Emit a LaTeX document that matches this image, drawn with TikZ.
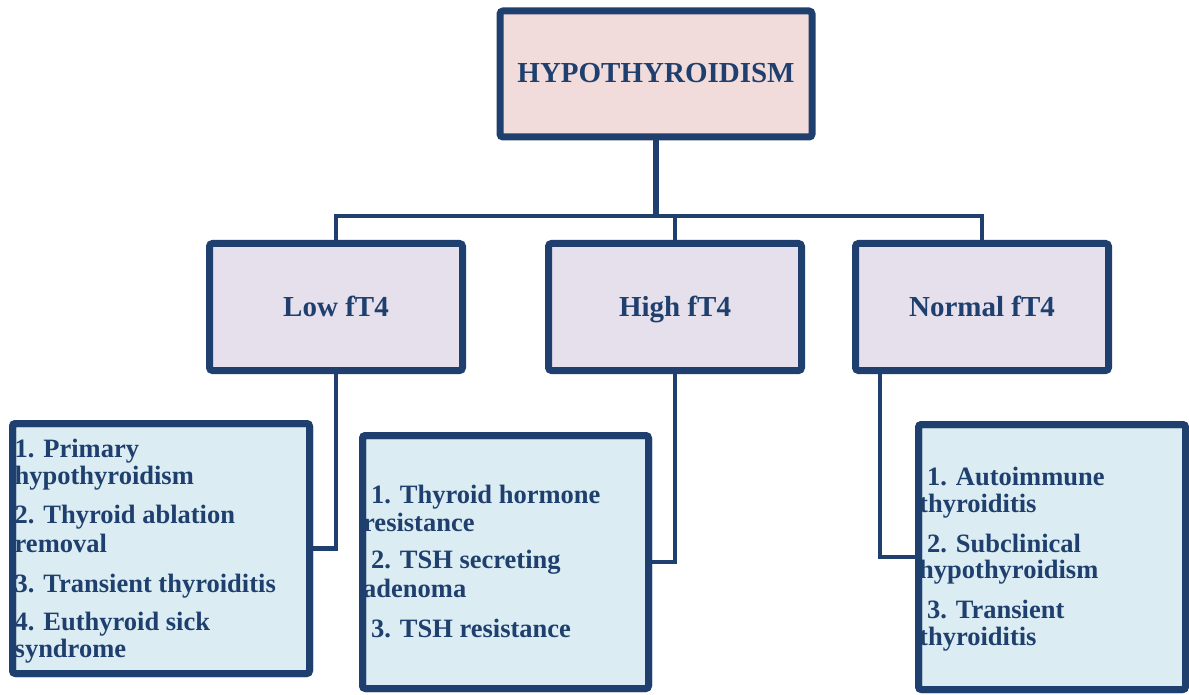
\documentclass[tikz,border=0pt]{standalone}
\usepackage{fontspec}
\setmainfont{Liberation Serif}
\usetikzlibrary{shadows,backgrounds}
\definecolor{navy}{RGB}{31,64,110}
\definecolor{rootfill}{RGB}{242,220,219}
\definecolor{midfill}{RGB}{229,224,236}
\definecolor{leaffill}{RGB}{219,237,243}
\begin{document}
\begin{tikzpicture}[x=1pt,y=-1pt,
  box/.style={draw=navy, line width=7pt, rounded corners=3pt, inner sep=0pt, outer sep=0pt,
    text=navy, font=\bfseries\fontsize{29}{31}\selectfont, text height=22pt, text depth=4pt,
    drop shadow={shadow xshift=2pt, shadow yshift=-3pt, opacity=0.35, fill=black!70}},
  rim/.style={draw=navy, line width=7pt, rounded corners=3pt},
  conn/.style={draw=navy, line width=4.5pt},
  item/.style={anchor=base west, inner sep=0pt, text=navy,
    font=\bfseries\fontsize{26.5}{28}\selectfont}]
\useasboundingbox (0,0) rectangle (1189,695);

% boxes of the tree
\node[box, fill=rootfill, minimum width=312pt, minimum height=126pt] (root) at (656,74) {HYPOTHYROIDISM};
\node[box, fill=midfill, minimum width=253pt, minimum height=127pt] (low) at (336,307) {Low fT4};
\node[box, fill=midfill, minimum width=253pt, minimum height=127pt] (high) at (675,307) {High fT4};
\node[box, fill=midfill, minimum width=253pt, minimum height=127pt] (normal) at (982,307) {Normal fT4};
\node[box, fill=leaffill, minimum width=297pt, minimum height=250pt] (leafL) at (161,548.5) {};
\node[box, fill=leaffill, minimum width=286pt, minimum height=253pt] (leafH) at (505.5,562) {};
\node[box, fill=leaffill, minimum width=267pt, minimum height=265pt] (leafN) at (1052,557) {};

% connectors
\coordinate (bus) at (0,216);
\coordinate (ndrop) at (880,0);
\begin{pgfonlayer}{background}
  \draw[conn, line width=5.5pt] (root.south) -- (root.south |- bus);
  \draw[conn] (low.north) -- (low.north |- bus) -- (normal.north |- bus) -- (normal.north);
  \draw[conn] (high.north) -- (high.north |- bus);
  \draw[conn] (low.south) |- (leafL.east);
  \draw[conn] (high.south) |- (leafH.east);
  \draw[conn] (normal.south -| ndrop) |- (leafN.west);
\end{pgfonlayer}

% low fT4 causes
\node[item] (l1) at (14.5,457) {1. Primary};
\node[item] (l2) at (14.5,484) {hypothyroidism};
\node[item] (l3) at (14.5,523) {2. Thyroid ablation};
\node[item] (l4) at (14.5,552) {removal};
\node[item] (l5) at (14.5,592) {3. Transient thyroiditis};
\node[item] (l6) at (14.5,630) {4. Euthyroid sick};
\node[item] (l7) at (14.5,657) {syndrome};

% high fT4 causes
\node[item] (h1) at (371,503) {1. Thyroid hormone};
\node[item] (h2) at (363,531) {resistance};
\node[item] (h3) at (371,568) {2. TSH secreting};
\node[item] (h4) at (363,597) {adenoma};
\node[item] (h5) at (371,637) {3. TSH resistance};

% normal fT4 causes
\node[item] (n1) at (927,485) {1. Autoimmune};
\node[item] (n2) at (919,512) {thyroiditis};
\node[item] (n3) at (927,552) {2. Subclinical};
\node[item] (n4) at (919,578) {hypothyroidism};
\node[item] (n5) at (927,618) {3. Transient};
\node[item] (n6) at (919,645) {thyroiditis};

% leaf borders over the text edges
\draw[rim] (leafL.north west) rectangle (leafL.south east);
\draw[rim] (leafH.north west) rectangle (leafH.south east);
\draw[rim] (leafN.north west) rectangle (leafN.south east);
\end{tikzpicture}
\end{document}
